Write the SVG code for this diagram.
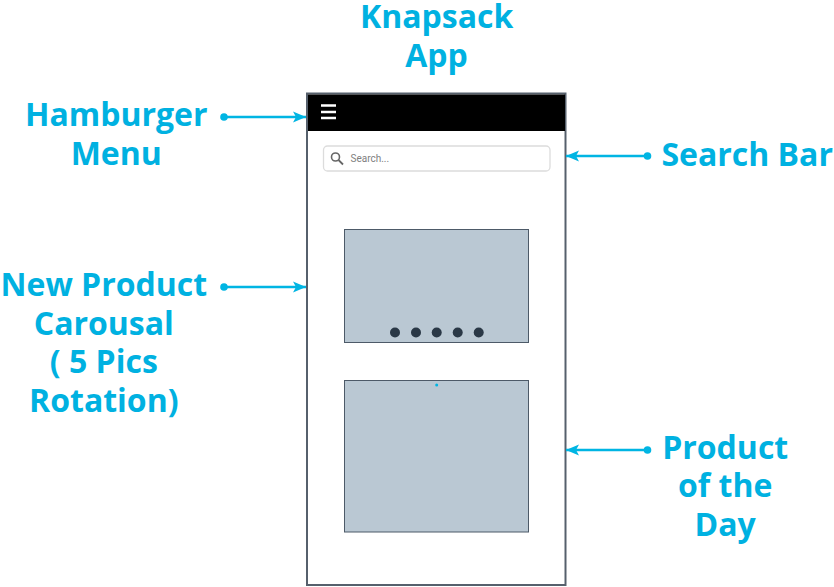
<svg xmlns="http://www.w3.org/2000/svg" width="834" height="587" viewBox="0 0 834 587">
<style>
.lb{font-family:"Open Sans","Noto Sans",sans-serif;font-size:32px;font-weight:700;fill:#00b1e1;text-anchor:middle}
.c{stroke:#00b5e3;stroke-width:2.500;fill:none;marker-end:url(#a)}
.d{fill:#00b5e3}
.p{fill:#bac8d3;stroke:#4d5a68;stroke-width:1}
.dot{fill:#2a3846}
.h{stroke:#fff;stroke-width:2.400}
</style>
<defs><marker id="a" markerUnits="userSpaceOnUse" markerWidth="14" markerHeight="12" refX="13" refY="6" orient="auto"><path d="M0 0.500L13 6L0 11.500L3 6Z" fill="#00b5e3"/></marker></defs>
<rect width="834" height="587" fill="#fff"/>
<g id="phone">
<rect x="307" y="93.500" width="258.500" height="491.500" fill="#fff" stroke="#56606c" stroke-width="2"/>
<rect x="308" y="94.500" width="257" height="36.500" fill="#000"/>
<path class="h" d="M321 105.500H336M321 112H336M321 118H336"/>
</g>
<g id="search">
<rect x="323.500" y="146" width="226.500" height="25" rx="4" fill="#fff" stroke="#dcdcdc" stroke-width="1.300"/>
<circle cx="335.500" cy="157" r="4" fill="none" stroke="#666" stroke-width="1.600"/>
<path d="M338.500 160L343 164.500" stroke="#666" stroke-width="1.800"/>
<text x="350.500" y="162" font-family="Roboto,sans-serif" font-size="10px" fill="#808080">Search...</text>
</g>
<g id="carousel">
<rect class="p" x="344.500" y="229.500" width="184" height="113"/>
<circle class="dot" cx="395" cy="332.500" r="5"/><circle class="dot" cx="416" cy="332.500" r="5"/><circle class="dot" cx="436.700" cy="332.500" r="5"/><circle class="dot" cx="457.700" cy="332.500" r="5"/><circle class="dot" cx="478.700" cy="332.500" r="5"/>
</g>
<g id="product">
<rect class="p" x="344.500" y="380.500" width="184" height="151.500"/>
<circle class="d" cx="436.700" cy="385" r="1.500"/>
</g>
<g id="connectors">
<circle class="d" cx="224" cy="117" r="3.800"/><path class="c" d="M224 117H306"/>
<circle class="d" cx="224" cy="287" r="3.800"/><path class="c" d="M224 287H306"/>
<circle class="d" cx="647.500" cy="156" r="3.800"/><path class="c" d="M647.500 156H566"/>
<circle class="d" cx="647.500" cy="450" r="3.800"/><path class="c" d="M647.500 450H566"/>
</g>
<g id="title"><text class="lb" x="436.700" y="28.300">Knapsack</text><text class="lb" x="436.500" y="67.300">App</text></g>
<g id="hamburger-label"><text class="lb" x="116.200" y="126.300">Hamburger</text><text class="lb" x="116.200" y="165.300">Menu</text></g>
<g id="carousel-label"><text class="lb" x="103.800" y="296.300">New Product</text><text class="lb" x="103.800" y="335.300">Carousal</text><text class="lb" x="103.800" y="373.300">( 5 Pics</text><text class="lb" x="103.800" y="412.300">Rotation)</text></g>
<g id="search-label"><text class="lb" x="747.200" y="166.300">Search Bar</text></g>
<g id="product-label"><text class="lb" x="725.200" y="459.300">Product</text><text class="lb" x="725.200" y="497.300">of the</text><text class="lb" x="725.200" y="536.300">Day</text></g>
</svg>
